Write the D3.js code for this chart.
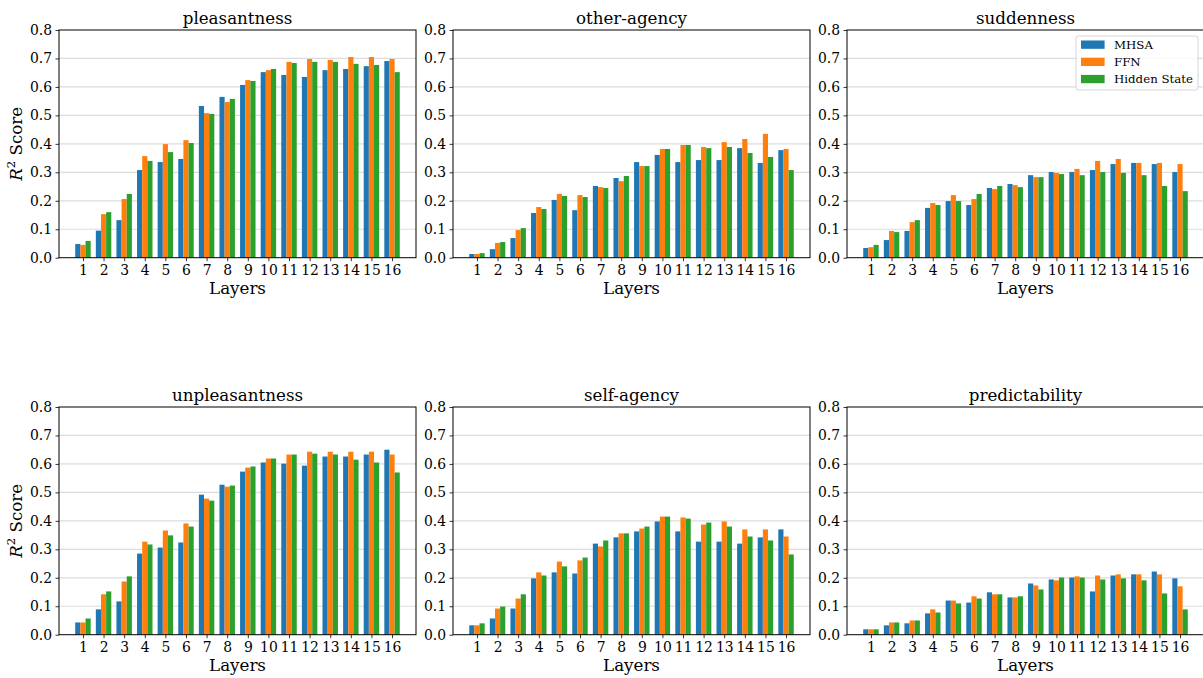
<!DOCTYPE html>
<html><head><meta charset="utf-8">
<script src="https://cdn.jsdelivr.net/npm/d3@7"></script>
<style>body{margin:0;background:#fff}svg{display:block}text{font-family:"DejaVu Serif",serif}</style>
</head><body>
<script>
const layers = [1,2,3,4,5,6,7,8,9,10,11,12,13,14,15,16];
const seriesNames = ["MHSA","FFN","Hidden State"];
const seriesColors = ["#1f77b4","#ff7f0e","#2ca02c"];
const yTicks = [0,0.1,0.2,0.3,0.4,0.5,0.6,0.7,0.8];
const panelTitles = ["pleasantness","other-agency","suddenness","unpleasantness","self-agency","predictability"];

const pleasantnessMHSA = [0.048,0.095,0.132,0.308,0.336,0.347,0.533,0.565,0.607,0.652,0.642,0.635,0.659,0.663,0.673,0.691];
const pleasantnessFFN = [0.045,0.153,0.206,0.357,0.399,0.413,0.508,0.547,0.624,0.659,0.688,0.698,0.695,0.705,0.705,0.698];
const pleasantnessHidden = [0.059,0.160,0.224,0.340,0.371,0.403,0.505,0.558,0.621,0.663,0.684,0.688,0.688,0.681,0.677,0.652];

const otherAgencyMHSA = [0.013,0.030,0.069,0.157,0.203,0.167,0.252,0.280,0.336,0.361,0.336,0.343,0.343,0.385,0.333,0.378];
const otherAgencyFFN = [0.013,0.052,0.097,0.178,0.224,0.220,0.248,0.269,0.322,0.382,0.396,0.389,0.406,0.417,0.435,0.382];
const otherAgencyHidden = [0.016,0.055,0.104,0.171,0.217,0.213,0.245,0.287,0.322,0.382,0.396,0.385,0.389,0.368,0.354,0.308];

const suddennessMHSA = [0.034,0.062,0.094,0.175,0.199,0.185,0.245,0.259,0.290,0.301,0.301,0.308,0.329,0.333,0.329,0.301];
const suddennessFFN = [0.037,0.094,0.125,0.192,0.220,0.206,0.241,0.255,0.283,0.298,0.312,0.340,0.347,0.333,0.333,0.329];
const suddennessHidden = [0.045,0.090,0.132,0.185,0.199,0.224,0.252,0.248,0.283,0.294,0.290,0.301,0.298,0.290,0.252,0.234];

const unpleasantnessMHSA = [0.043,0.089,0.117,0.285,0.306,0.324,0.492,0.527,0.573,0.605,0.601,0.594,0.626,0.626,0.633,0.650];
const unpleasantnessFFN = [0.043,0.142,0.187,0.327,0.366,0.391,0.478,0.520,0.587,0.619,0.633,0.643,0.643,0.643,0.643,0.633];
const unpleasantnessHidden = [0.057,0.152,0.205,0.317,0.349,0.380,0.471,0.524,0.591,0.619,0.633,0.636,0.633,0.615,0.605,0.570];

const selfAgencyMHSA = [0.033,0.057,0.092,0.198,0.219,0.215,0.320,0.342,0.363,0.398,0.363,0.327,0.327,0.320,0.342,0.370];
const selfAgencyFFN = [0.033,0.092,0.127,0.219,0.257,0.261,0.310,0.356,0.373,0.415,0.412,0.387,0.398,0.370,0.370,0.345];
const selfAgencyHidden = [0.040,0.099,0.142,0.208,0.240,0.271,0.331,0.356,0.380,0.415,0.408,0.394,0.380,0.345,0.331,0.282];

const predictabilityMHSA = [0.019,0.033,0.040,0.075,0.120,0.113,0.149,0.131,0.180,0.194,0.201,0.152,0.208,0.212,0.222,0.198];
const predictabilityFFN = [0.019,0.043,0.050,0.089,0.120,0.135,0.142,0.131,0.173,0.191,0.205,0.208,0.212,0.212,0.212,0.170];
const predictabilityHidden = [0.019,0.043,0.050,0.078,0.110,0.127,0.142,0.135,0.159,0.201,0.201,0.194,0.198,0.191,0.145,0.089];

const panelSeries = [
  [pleasantnessMHSA, pleasantnessFFN, pleasantnessHidden],
  [otherAgencyMHSA, otherAgencyFFN, otherAgencyHidden],
  [suddennessMHSA, suddennessFFN, suddennessHidden],
  [unpleasantnessMHSA, unpleasantnessFFN, unpleasantnessHidden],
  [selfAgencyMHSA, selfAgencyFFN, selfAgencyHidden],
  [predictabilityMHSA, predictabilityFFN, predictabilityHidden]
];

const W = 1203, H = 678;
const svg = d3.select("body").append("svg").attr("width", W).attr("height", H);
const colX = [59, 453, 847];
const rowY = [30, 407];
const pw = 357, ph = 227.7;
const barW = 0.25;
const tickFont = 13.9, labelFont = 16.7;

panelTitles.forEach((title, i) => {
  const col = i % 3, row = Math.floor(i / 3);
  const g = svg.append("g").attr("transform", `translate(${colX[col]},${rowY[row]})`);
  const x = d3.scaleLinear().domain([-0.1625, 17.1625]).range([0, pw]);
  const y = d3.scaleLinear().domain([0, 0.8]).range([ph, 0]);

  // grid
  g.selectAll("line.grid").data(yTicks.filter(t => t > 0 && t < 0.8)).enter().append("line")
    .attr("x1", 0).attr("x2", pw).attr("y1", d => y(d)).attr("y2", d => y(d))
    .attr("stroke", "#dcdcdc").attr("stroke-width", 1.2);

  // bars
  panelSeries[i].forEach((vals, s) => {
    g.selectAll(null).data(vals).enter().append("rect")
      .attr("x", (d, k) => x(layers[k] + (s - 1) * barW - barW / 2))
      .attr("width", x(barW) - x(0))
      .attr("y", d => y(d))
      .attr("height", d => y(0) - y(d))
      .attr("fill", seriesColors[s]);
  });

  // frame
  g.append("rect").attr("x", 0).attr("y", 0).attr("width", pw).attr("height", ph)
    .attr("fill", "none").attr("stroke", "#000").attr("stroke-width", 1);

  const xAxis = d3.axisBottom(x).tickValues(layers).tickFormat(d3.format("d")).tickSize(3.5).tickPadding(3.5);
  const gx = g.append("g").attr("transform", `translate(0,${ph})`).call(xAxis);
  const yAxis = d3.axisLeft(y).tickValues(yTicks).tickFormat(d3.format(".1f")).tickSize(3.5).tickPadding(3.5);
  const gy = g.append("g").call(yAxis);
  [gx, gy].forEach(a => {
    a.select(".domain").remove();
    a.selectAll("line").attr("stroke", "#000").attr("stroke-width", 0.8);
    a.selectAll("text").attr("font-family", "DejaVu Serif").attr("font-size", tickFont).attr("fill", "#000");
  });

  g.append("text").attr("x", pw / 2).attr("y", -6).attr("text-anchor", "middle")
    .attr("font-size", labelFont).text(title);
  g.append("text").attr("x", pw / 2).attr("y", ph + 36).attr("text-anchor", "middle")
    .attr("font-size", labelFont).text("Layers");

  if (col === 0) {
    const t = g.append("text").attr("transform", `translate(${17 - colX[0] + 5},${ph / 2}) rotate(-90)`)
      .attr("text-anchor", "middle").attr("font-size", labelFont);
    t.append("tspan").attr("font-style", "italic").attr("font-family", "DejaVu Serif").text("R");
    t.append("tspan").attr("font-size", labelFont * 0.7).attr("dy", -7).text("2");
    t.append("tspan").attr("dy", 7).text(" Score");
  }

  if (i === 2) {
    const lg = g.append("g").attr("transform", `translate(${1076 - colX[2]},${36 - rowY[0]})`);
    lg.append("rect").attr("width", 122).attr("height", 54).attr("rx", 2.5)
      .attr("fill", "#fff").attr("fill-opacity", 0.8).attr("stroke", "#cccccc").attr("stroke-width", 0.8);
    seriesNames.forEach((n, s) => {
      lg.append("rect").attr("x", 5).attr("y", 4.5 + s * 17.2).attr("width", 23.6).attr("height", 8.3).attr("fill", seriesColors[s]);
      lg.append("text").attr("x", 38).attr("y", 13 + s * 17.2).attr("font-size", 11.8).text(n);
    });
  }
});
</script>
</body></html>
